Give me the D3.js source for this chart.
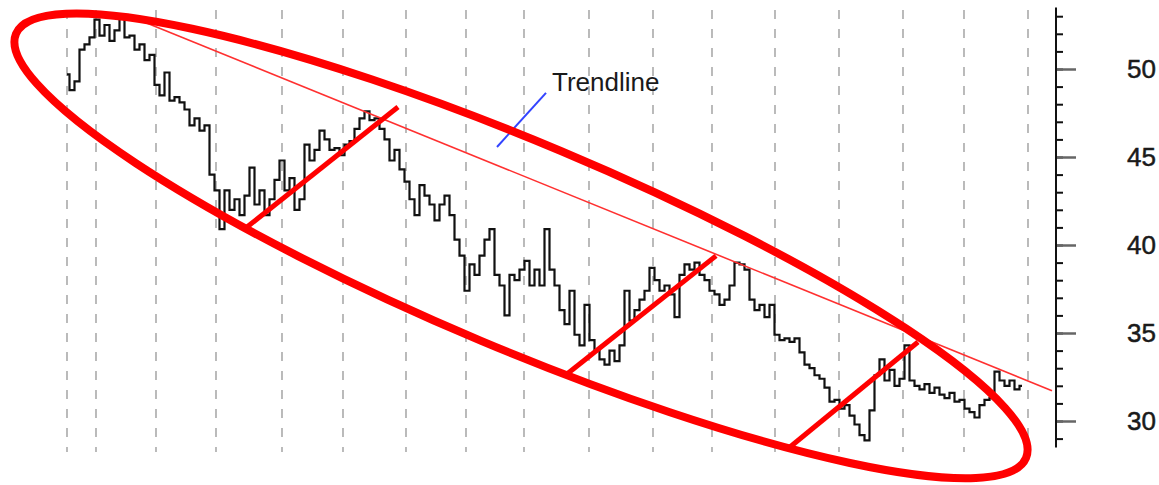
<!DOCTYPE html>
<html><head><meta charset="utf-8">
<script src="https://cdn.jsdelivr.net/npm/d3@7"></script>
<style>body{margin:0;background:#fff}svg{display:block}</style>
</head><body><svg id="c" width="1159" height="485"></svg>
<script>
// price samples (one per step along the time axis)
const prices = [
49.7,48.8,49.3,51.1,51.4,51.8,52.8,51.9,52.5,51.6,52.2,52.9,51.8,51.9,51.1,51.4,50.5,50.8,49.1,48.5,
49.8,48.2,48.4,48.1,47.7,46.8,47.2,46.5,46.8,44.0,43.1,40.9,43.1,42.0,42.6,41.7,42.8,44.4,42.3,43.1,
41.7,42.6,43.7,44.8,43.1,43.8,42.0,42.6,45.7,44.8,45.4,46.5,46.0,45.4,45.5,45.1,45.7,45.9,46.6,47.2,
47.6,47.1,47.2,46.6,46.0,44.8,45.4,44.3,43.6,42.6,41.7,43.4,42.8,42.3,41.4,42.3,42.8,41.7,40.3,39.4,
37.4,38.9,38.3,39.4,40.3,40.9,38.3,37.7,36.0,38.3,38.0,38.6,39.1,37.7,38.6,37.7,40.9,38.6,37.7,36.3,
35.5,37.4,34.9,34.3,36.6,34.6,34.0,33.5,33.2,34.0,33.4,34.3,37.4,35.7,36.3,36.9,37.4,38.7,38.0,37.4,
37.7,37.2,35.9,38.3,38.9,38.6,39.0,38.3,38.0,37.4,37.2,36.6,36.9,37.7,39.0,38.9,38.6,36.9,36.3,36.6,
35.9,36.6,34.9,34.6,34.7,34.5,34.7,33.9,33.2,33.0,32.6,32.4,31.9,31.1,31.2,30.7,30.9,30.3,29.8,29.2,
28.9,30.6,32.6,33.5,32.3,32.9,32.0,32.4,34.3,32.3,32.0,31.8,32.1,31.6,31.9,31.5,31.3,31.6,31.1,31.2,
30.7,30.5,30.2,30.9,31.2,31.3,32.8,32.3,32.0,32.3,31.8,32.0
];
const gridIdx = [0,5.8,17.8,29.8,43,55.2,67.8,79.8,91.4,104.4,117.2,129,141.6,154.4,167.2,179.4,192.2];
const yMajorTicks = [30,35,40,45,50];
const yMinorTicks = d3.range(29,54);
const trendline = [[12.6,53.0],[197,31.72]];
const channelLines = [
  [[36,41.02],[66.2,47.84]],
  [[100,32.67],[129.8,39.38]],
  [[144.6,28.52],[170.2,34.49]]
];
const ellipseAxis = [[-10.2,52.0],[191.8,27.9]];
const ellipseRatio = 0.188;
const labelText = "Trendline";
const labelAt = [97,48.75];
const pointer = [[86,45.57],[95.8,48.64]];

const svg = d3.select("#c");
const x = d3.scaleLinear().domain([0,191]).range([67,1022]);
const y = d3.scaleLinear().domain([30,50]).range([421,69]);

// grid
svg.append("g").selectAll("line").data(gridIdx).join("line")
  .attr("x1",d=>x(d)).attr("x2",d=>x(d))
  .attr("y1",10).attr("y2",452)
  .attr("stroke","#aaa").attr("stroke-width",1.6).attr("stroke-dasharray","9,10");

// right axis
const axX = 1057;
const gMinor = svg.append("g").attr("transform",`translate(${axX},0)`)
  .call(d3.axisRight(y).tickValues(yMinorTicks).tickSize(6).tickSizeOuter(0).tickFormat(""));
gMinor.select(".domain").remove();
gMinor.selectAll(".tick line").attr("stroke","#111").attr("stroke-width",2);
const gMajor = svg.append("g").attr("transform",`translate(${axX},0)`)
  .call(d3.axisRight(y).tickValues(yMajorTicks).tickSize(19).tickSizeOuter(0).tickPadding(51).tickFormat(d3.format("d")));
gMajor.select(".domain").remove();
gMajor.selectAll(".tick line").attr("stroke","#666").attr("stroke-width",2.5);
gMajor.selectAll(".tick text").attr("font-family","Liberation Sans, Arial, sans-serif")
  .attr("font-size",26).attr("fill","#1a1a1a").attr("stroke","#1a1a1a").attr("stroke-width",0.5);
svg.append("line").attr("x1",axX-1).attr("x2",axX-1)
  .attr("y1",y(53.5)).attr("y2",y(28.5)).attr("stroke","#111").attr("stroke-width",2);

// price line (step, bar-chart look)
svg.append("path").datum(prices)
  .attr("d",d3.line().x((d,i)=>x(i)).y(d=>y(d)).curve(d3.curveStep))
  .attr("fill","none").attr("stroke","#111").attr("stroke-width",2.2).attr("stroke-linejoin","miter");

// trendline
svg.append("line")
  .attr("x1",x(trendline[0][0])).attr("y1",y(trendline[0][1]))
  .attr("x2",x(trendline[1][0])).attr("y2",y(trendline[1][1]))
  .attr("stroke","#ff3030").attr("stroke-width",1.6);

// label + pointer
svg.append("text").attr("x",x(labelAt[0])).attr("y",y(labelAt[1]))
  .attr("font-family","Liberation Sans, Arial, sans-serif").attr("font-size",26).attr("fill","#1a1a1a")
  .text(labelText);
svg.append("line")
  .attr("x1",x(pointer[0][0])).attr("y1",y(pointer[0][1]))
  .attr("x2",x(pointer[1][0])).attr("y2",y(pointer[1][1]))
  .attr("stroke","#3344ff").attr("stroke-width",2);

// channel lines
svg.append("g").selectAll("line").data(channelLines).join("line")
  .attr("x1",d=>x(d[0][0])).attr("y1",d=>y(d[0][1]))
  .attr("x2",d=>x(d[1][0])).attr("y2",d=>y(d[1][1]))
  .attr("stroke","#ff0000").attr("stroke-width",5);

// ellipse
const p1=[x(ellipseAxis[0][0]),y(ellipseAxis[0][1])], p2=[x(ellipseAxis[1][0]),y(ellipseAxis[1][1])];
const cx=(p1[0]+p2[0])/2, cy=(p1[1]+p2[1])/2;
const a=Math.hypot(p2[0]-p1[0],p2[1]-p1[1])/2;
const ang=Math.atan2(p2[1]-p1[1],p2[0]-p1[0])*180/Math.PI;
svg.append("ellipse").attr("cx",0).attr("cy",0).attr("rx",a).attr("ry",a*ellipseRatio)
  .attr("transform",`translate(${cx},${cy}) rotate(${ang})`)
  .attr("fill","none").attr("stroke","#ff0000").attr("stroke-width",8);
</script></body></html>
